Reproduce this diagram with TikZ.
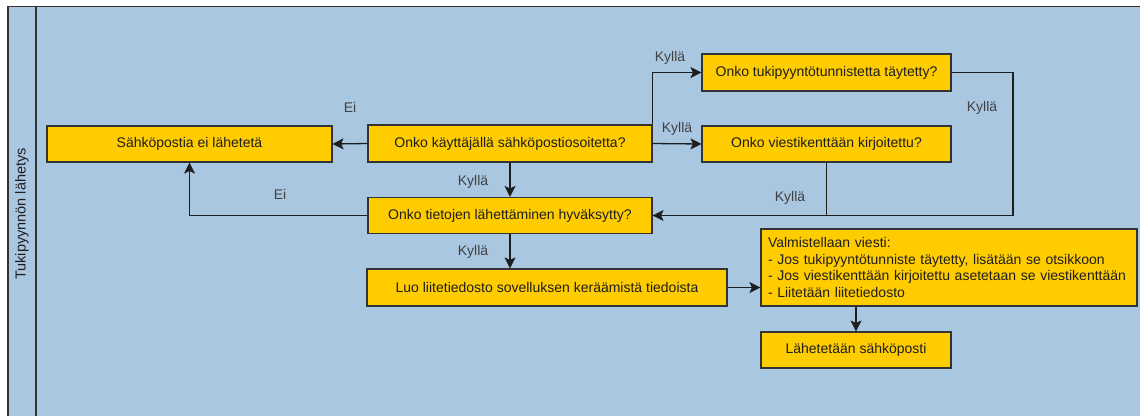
\documentclass[tikz,border=0pt]{standalone}
\usepackage{fontspec}
\setmainfont{Liberation Sans}
\usetikzlibrary{arrows.meta}
\definecolor{lanebg}{HTML}{AAC7E1}
\definecolor{boxfill}{HTML}{FFCC00}
\definecolor{ink}{HTML}{1E1E1E}
\definecolor{edge}{HTML}{333333}
\begin{document}
\begin{tikzpicture}[x=1pt,y=-1pt,
  every node/.style={font=\fontsize{14}{16.5}\selectfont, text=ink},
  box/.style={draw=edge, fill=boxfill, line width=1.1pt, inner sep=0pt, align=center},
  conn/.style={draw=ink, line width=1.3pt},
  arr/.style={conn, -{Stealth[length=11pt,width=11pt,inset=2.5pt,line width=0.5pt]}},
  lbl/.style={text=ink!85}
]
\useasboundingbox (0,0) rectangle (1140,416);
\fill[lanebg] (8,6.5) rectangle (1140,416);
\draw[edge, line width=1.3pt] (8,416) -- (8,6.5) -- (1140,6.5);
\draw[edge, line width=1.3pt] (36,6.5) -- (36,416);
\node[rotate=90, font=\fontsize{14.5}{17}\selectfont] (lane) at (22,214) {Tukipyynnön lähetys};

\node[box, minimum width=285pt, minimum height=36pt] (no) at (189.5,144) {Sähköpostia ei lähetetä};
\node[box, minimum width=284pt, minimum height=37pt] (q1) at (510,143.5) {Onko käyttäjällä sähköpostiosoitetta?};
\node[box, minimum width=284pt, minimum height=36pt] (q2) at (510,215.5) {Onko tietojen lähettäminen hyväksytty?};
\node[box, minimum width=249pt, minimum height=37pt] (q3) at (826.5,72.5) {Onko tukipyyntötunnistetta täytetty?};
\node[box, minimum width=249pt, minimum height=36pt] (q4) at (826.5,144) {Onko viestikenttään kirjoitettu?};
\node[box, minimum width=360pt, minimum height=37pt] (luo) at (547,287.5) {Luo liitetiedosto sovelluksen keräämistä tiedoista};
\node[box, minimum width=376pt, minimum height=77pt, text width=362pt, align=left] (val) at (949,267.5) {Valmistellaan viesti:\\- Jos tukipyyntötunniste täytetty, lisätään se otsikkoon\\- Jos viestikenttään kirjoitettu asetetaan se viestikenttään\\- Liitetään liitetiedosto};
\node[box, minimum width=190pt, minimum height=36pt] (send) at (856,350) {Lähetetään sähköposti};

\draw[arr] (q1.west) -- (no.east);
\draw[arr] (q1.south) -- (q2.north);
\draw[arr] (q1.east) -- (q4.west);
\draw[arr] (q1.north east) -- (q1.north east |- q3.west) -- (q3.west);
\coordinate (rc) at (1013,72.5);
\draw[arr] (q3.east) -- (rc) |- (q2.east);
\draw[conn] (q4.south) -- (q4.south |- q2.east);
\draw[arr] (q2.west) -| (no.south);
\draw[arr] (q2.south) -- (q2.south |- luo.north);
\draw[arr] (luo.east) -- (luo.east -| val.west);
\draw[arr] (send.north |- val.south) -- (send.north);

\node[lbl] (l1) at (350,107) {Ei};
\node[lbl] (l2) at (473,182) {Kyllä};
\node[lbl] (l3) at (677,129) {Kyllä};
\node[lbl] (l4) at (670,58) {Kyllä};
\node[lbl] (l5) at (982,108) {Kyllä};
\node[lbl] (l6) at (790,198) {Kyllä};
\node[lbl] (l7) at (280,194) {Ei};
\node[lbl] (l8) at (473,252) {Kyllä};
\end{tikzpicture}
\end{document}
